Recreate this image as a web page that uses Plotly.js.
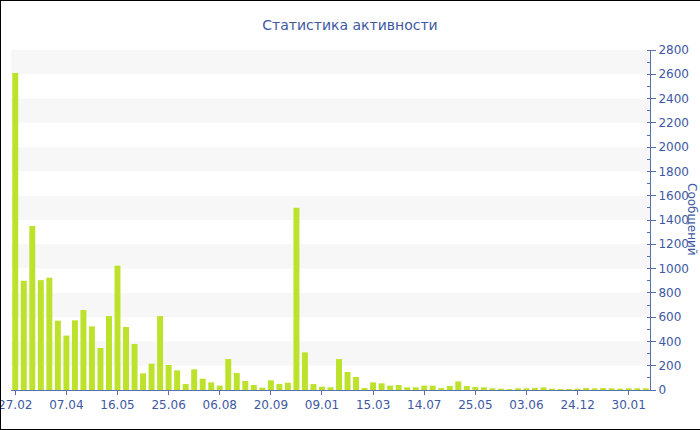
<!DOCTYPE html>
<html>
<head>
<meta charset="utf-8">
<script src="https://cdn.plot.ly/plotly-3.0.1.min.js"></script>
<style>
  html, body { margin: 0; padding: 0; background: #fff; }
  #wrap { position: relative; width: 700px; height: 430px; overflow: hidden; }
  #chart { position: absolute; left: 0; top: 0; width: 700px; height: 430px; }
  #frame { position: absolute; left: 0; top: 0; width: 710px; height: 428px;
           border: 1px solid #000; pointer-events: none; }
</style>
</head>
<body>
<div id="wrap">
  <div id="chart"></div>
  <div id="frame"></div>
</div>
<script>
// Messages per period (bars in order, left to right)
const messages = [
  2610, 900, 1350, 905, 925, 571, 448, 574, 659, 524,
  346, 609, 1024, 519, 379, 137, 217, 609, 206, 162,
  49, 170, 93, 63, 36, 255, 140, 74, 41, 19,
  80, 49, 60, 1500, 310, 49, 27, 22, 255, 148,
  107, 16, 63, 55, 36, 41, 22, 22, 36, 36,
  16, 33, 71, 33, 25, 22, 14, 11, 8, 14,
  14, 16, 22, 11, 8, 8, 11, 16, 14, 16,
  14, 11, 14, 14, 14
];
// Date labels shown on the x axis (every 6th bar)
const tickLabels = ["27.02", "07.04", "16.05", "25.06", "06.08", "20.09", "09.01",
                    "15.03", "14.07", "25.05", "03.06", "24.12", "30.01"];
const tickStep = 6;
const yTicks = [0, 200, 400, 600, 800, 1000, 1200, 1400, 1600, 1800, 2000, 2200, 2400, 2600, 2800];

const titleText = "Статистика активности";
const yTitleText = "Сообщений";

const xIdx = messages.map((_, i) => i);
const tickVals = tickLabels.map((_, i) => i * tickStep);

const blue = "#4058a2";
const axisBlue = "#5b6eae";
const font = "DejaVu Sans, Verdana, sans-serif";

// alternating horizontal bands
const shapes = [];
for (let k = 1; k + 1 < yTicks.length; k += 2) {
  shapes.push({
    type: "rect", xref: "paper", yref: "y", layer: "below",
    x0: 0, x1: 1, y0: yTicks[k], y1: yTicks[k + 1],
    fillcolor: "#f7f7f7", line: { width: 0 }
  });
}

const trace = {
  type: "bar",
  x: xIdx,
  y: messages,
  marker: { color: "#bde22c", line: { width: 0 } },
  hoverinfo: "y"
};

const layout = {
  width: 700, height: 430,
  margin: { l: 10.7, r: 50, t: 50, b: 40, pad: 0 },
  paper_bgcolor: "rgba(0,0,0,0)",
  plot_bgcolor: "rgba(0,0,0,0)",
  showlegend: false,
  bargap: 0.3,
  font: { family: font, color: blue, size: 12 },
  title: {
    text: titleText,
    font: { family: font, size: 14, color: blue },
    x: 0.5, xanchor: "center",
    y: 1 - 25 / 430, yref: "container", yanchor: "middle"
  },
  xaxis: {
    range: [-0.5, messages.length - 0.5],
    tickmode: "array",
    tickvals: tickVals,
    ticktext: tickLabels,
    ticklabeloverflow: "allow",
    ticks: "outside", ticklen: 4, tickcolor: axisBlue,
    showline: true, linecolor: axisBlue, linewidth: 1,
    showgrid: false, zeroline: false,
    tickfont: { family: font, size: 12, color: blue },
    fixedrange: true
  },
  yaxis: {
    side: "right",
    range: [0, 2800],
    tickmode: "array",
    tickvals: yTicks,
    ticks: "outside", ticklen: 5, tickcolor: axisBlue,
    minor: { dtick: 100, ticks: "inside", ticklen: 3, tickcolor: axisBlue, showgrid: false },
    showline: true, linecolor: axisBlue, linewidth: 1,
    showgrid: false, zeroline: false,
    tickfont: { family: font, size: 12, color: blue },
    fixedrange: true
  },
  shapes: shapes,
  annotations: [{
    text: yTitleText,
    xref: "paper", yref: "paper",
    x: 1 + 42 / 639.3, y: 0.5,
    xanchor: "center", yanchor: "middle",
    textangle: 90,
    showarrow: false,
    font: { family: font, size: 12, color: blue }
  }]
};

Plotly.newPlot("chart", [trace], layout, { displayModeBar: false, staticPlot: true });
</script>
</body>
</html>
